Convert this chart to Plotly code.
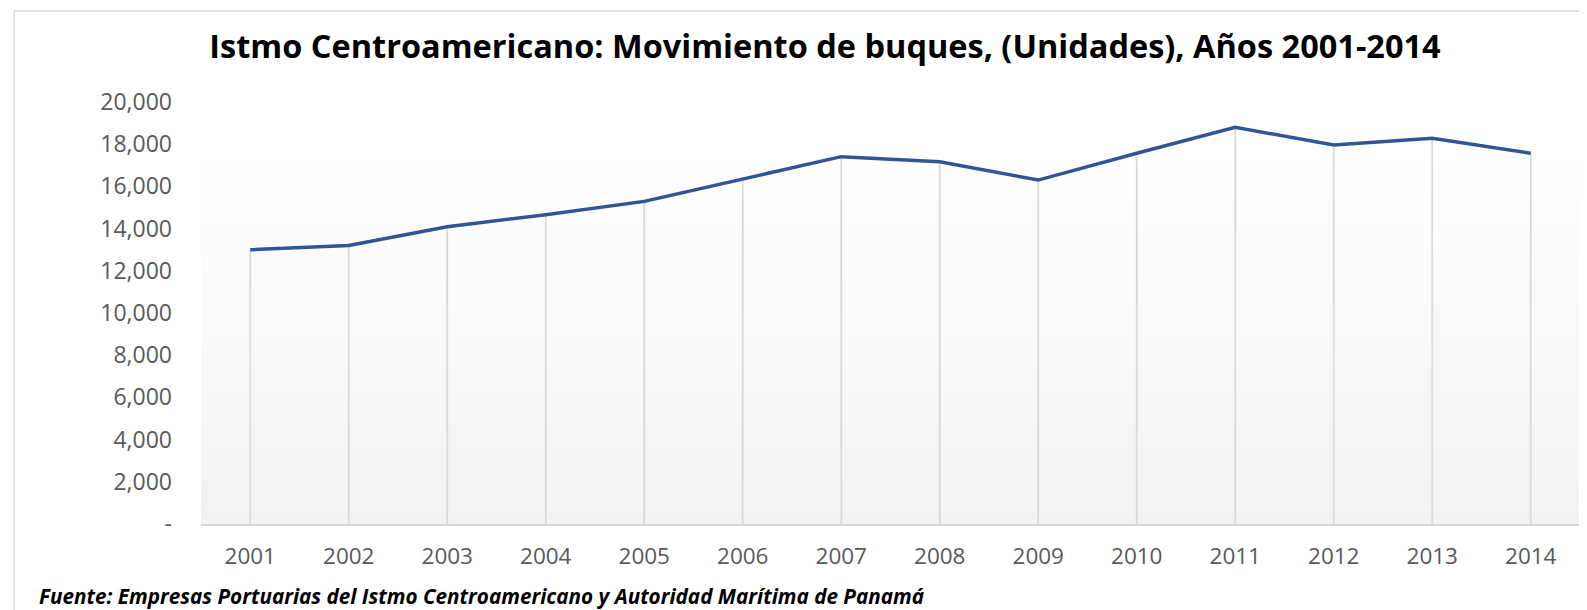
import plotly.graph_objects as go

years = [2001, 2002, 2003, 2004, 2005, 2006, 2007, 2008, 2009, 2010, 2011, 2012, 2013, 2014]
buques = [13000, 13200, 14090, 14660, 15290, 16340, 17410, 17170, 16300, 17570, 18800, 17960, 18280, 17570]
y_tickvals = [0, 2000, 4000, 6000, 8000, 10000, 12000, 14000, 16000, 18000, 20000]
y_ticktext = ["-", "2,000", "4,000", "6,000", "8,000", "10,000", "12,000", "14,000", "16,000", "18,000", "20,000"]

OFF = 8  # page body margin
W, H = 1587 - OFF, 610 - OFF
L, R, T, B = 201 - OFF, 7, 102 - OFF, 610 - 524
pw, ph = W - L - R, H - T - B

def px_to_paper_x(px):
    return (px - OFF - L) / pw

def px_to_paper_y(py):
    return (H - B - (py - OFF)) / ph

fig = go.Figure()

# drop lines (error bars down to zero)
fig.add_trace(go.Scatter(
    x=years, y=buques, mode="markers", marker=dict(size=0.1, color="rgba(0,0,0,0)"),
    error_y=dict(type="data", symmetric=False, array=[0] * len(buques), arrayminus=buques,
                 color="#d9d9d9", thickness=1.8, width=0),
    hoverinfo="skip", showlegend=False))

fig.add_trace(go.Scatter(
    x=years, y=buques, mode="lines", line=dict(color="#2F5597", width=3.5),
    showlegend=False, name="Movimiento de buques"))

shapes = []
# gradient background in plot area
top = px_to_paper_y(155)
n = 60
for i in range(n):
    y0 = top * i / n
    y1 = top * (i + 1) / n
    t = (i + 0.5) / n  # 0 bottom -> 1 top
    c = int(round(242 + (255 - 242) * t))
    shapes.append(dict(type="rect", xref="paper", yref="paper", x0=0, x1=1, y0=y0, y1=y1 + 0.001,
                       fillcolor=f"rgb({c},{c},{c})", line=dict(width=0), layer="below"))
# chart border (top and left)
shapes.append(dict(type="line", xref="paper", yref="paper",
                   x0=px_to_paper_x(14), x1=px_to_paper_x(1587), y0=px_to_paper_y(11), y1=px_to_paper_y(11),
                   line=dict(color="#d9d9d9", width=1.5)))
shapes.append(dict(type="line", xref="paper", yref="paper",
                   x0=px_to_paper_x(14), x1=px_to_paper_x(14), y0=px_to_paper_y(11), y1=px_to_paper_y(610),
                   line=dict(color="#d9d9d9", width=1.5)))

fig.update_layout(
    width=W, height=H,
    margin=dict(l=L, r=R, t=T, b=B),
    paper_bgcolor="white", plot_bgcolor="rgba(0,0,0,0)",
    title=dict(text="<b>Istmo Centroamericano: Movimiento de buques, (Unidades), Años 2001-2014</b>",
               x=(825 - OFF) / W, xanchor="center", y=1 - (47 - OFF) / H, yanchor="middle",
               font=dict(family="Open Sans", size=32.5, color="black")),
    shapes=shapes,
    showlegend=False,
    xaxis=dict(range=[2000.5, 2014.5], tickvals=years, ticktext=[str(y) for y in years],
               showgrid=False, zeroline=False, showline=True, linecolor="#d9d9d9", linewidth=1.5,
               ticks="", tickfont=dict(family="Open Sans", size=22.5, color="#595959"), ticklabelstandoff=11),
    yaxis=dict(range=[0, 20000], tickvals=y_tickvals, ticktext=y_ticktext,
               showgrid=False, zeroline=False, showline=False, ticks="",
               tickfont=dict(family="Open Sans", size=23, color="#595959"), ticklabelstandoff=28),
    annotations=[dict(text="<b><i>Fuente: Empresas Portuarias del Istmo Centroamericano y Autoridad Marítima de Panamá</i></b>",
                      xref="paper", yref="paper", x=px_to_paper_x(37), y=px_to_paper_y(596),
                      xanchor="left", yanchor="middle", showarrow=False,
                      font=dict(family="Open Sans", size=20.7, color="black"))],
)

fig.write_html("out.html")
